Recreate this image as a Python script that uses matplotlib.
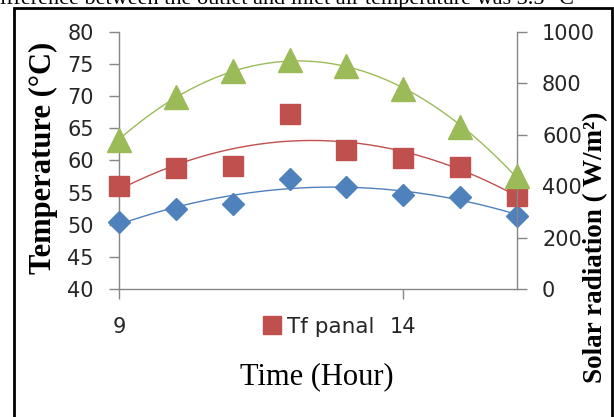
import numpy as np
import matplotlib.pyplot as plt
from matplotlib.patches import Rectangle

# hours of the day
hours = [9, 10, 11, 12, 13, 14, 15, 16]
# temperatures (left axis, °C)
t_blue = [50.5, 52.4, 53.3, 57.1, 55.9, 54.6, 54.3, 51.4]
tf_panal = [56.0, 58.9, 59.2, 67.3, 61.6, 60.4, 59.0, 54.5]
# solar radiation (right axis, W/m2)
solar = [580, 746, 847, 891, 868, 777, 632, 438]

blue = '#4F81BD'
red = '#C0504D'
green = '#9BBB59'
spine_col = '#868686'
txt_col = '#262626'

W, H = 614, 417
fig = plt.figure(figsize=(W / 100, H / 100), dpi=100)
ax = fig.add_axes([119 / W, 1 - 289 / H, (517 - 119) / W, (289 - 32) / H])
ax2 = ax.twinx()

xs = np.linspace(hours[0], hours[-1], 200)

# trendlines (2nd order polynomial fit like Excel)
for y, c, a in [(t_blue, blue, ax), (tf_panal, red, ax), (solar, green, ax2)]:
    p = np.polyfit(hours, y, 2)
    a.plot(xs, np.polyval(p, xs), color=c, lw=1.0, zorder=2)

ax.plot(hours, t_blue, 'D', color=blue, ms=11.5, mec=blue, clip_on=False, zorder=3)
red_pts, = ax.plot(hours, tf_panal, 's', color=red, ms=15, mec=red, clip_on=False,
                   zorder=3, label='Tf panal')
ax2.plot(hours, solar, '^', color=green, ms=17, mec=green, clip_on=False, zorder=3)

ax.set_xlim(9, 16)
ax.set_ylim(40, 80)
ax2.set_ylim(0, 1000)
ax.set_xticks([9, 14])
ax.set_yticks(np.arange(40, 81, 5))
ax2.set_yticks(np.arange(0, 1001, 200))

for a in (ax, ax2):
    a.spines['top'].set_visible(False)
    for s in ('left', 'right', 'bottom'):
        a.spines[s].set_color(spine_col)
        a.spines[s].set_linewidth(1.0)
    a.tick_params(colors=spine_col, labelcolor=txt_col, labelsize=15, length=7, width=1.0)
ax.spines['right'].set_visible(False)
ax2.spines['left'].set_visible(False)
ax2.spines['bottom'].set_visible(False)
ax.tick_params(axis='y', pad=11)
ax.tick_params(axis='x', pad=13)
ax2.tick_params(axis='y', pad=11)

serif = 'Liberation Serif'
fig.text(43 / W, 1 - 158 / H, 'Temperature (°C)', rotation=90, ha='center', va='center',
         family=serif, weight='bold', fontsize=22, color='black')
fig.text(596 / W, 1 - 247 / H, 'Solar radiation ( W/m²)', rotation=90, ha='center', va='center',
         family=serif, weight='bold', fontsize=19.5, color='black')
fig.text(317 / W, 1 - 377 / H, 'Time (Hour)', ha='center', va='center',
         family=serif, fontsize=22, color='black')

# caption text cut off at the top of the picture
fig.text(-11 / W, 1 - 4 / H, 'difference between the outlet and inlet air temperature was 3.5 °C',
         ha='left', va='baseline', family=serif, fontsize=16, color='black')

fig.legend(handles=[red_pts], loc='center', bbox_to_anchor=(319 / W, 1 - 327 / H),
           frameon=False, fontsize=15.5, markerscale=0.85, handlelength=0.8,
           handletextpad=0.3, borderpad=0, labelcolor=txt_col)

# outer frame
fig.patches.append(Rectangle((14 / W, -0.1), (612 - 14) / W, 1.1 - 8 / H,
                             transform=fig.transFigure, fill=False, lw=2, ec='black'))

fig.savefig('out.png', dpi=100)
